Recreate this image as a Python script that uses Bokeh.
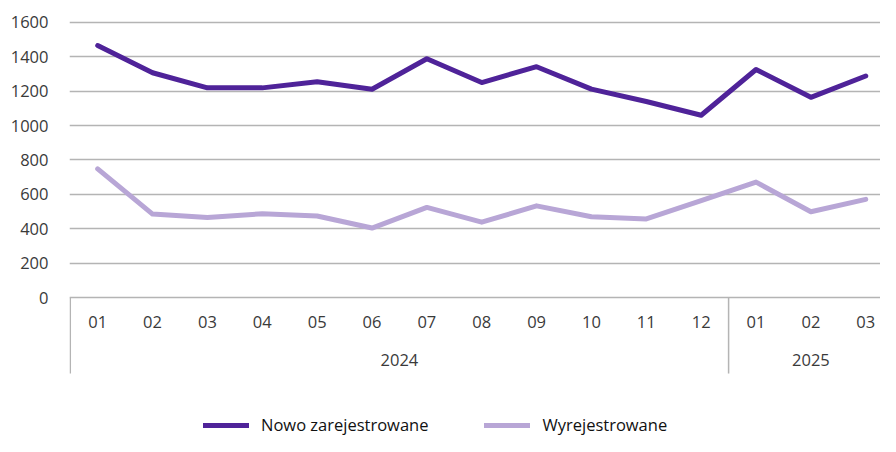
from bokeh.plotting import figure
from bokeh.models import Range1d, FixedTicker, Legend, LegendItem, ColumnDataSource
from bokeh.core.properties import value
from bokeh.embed import file_html
from bokeh.resources import INLINE

# ---- data ----
years = ["2024", "2025"]
months_2024 = ["01", "02", "03", "04", "05", "06", "07", "08", "09", "10", "11", "12"]
months_2025 = ["01", "02", "03"]
nowo_zarejestrowane = [1465, 1307, 1219, 1219, 1254, 1211, 1388, 1250, 1342, 1212,
                       1140, 1060, 1326, 1164, 1288]
wyrejestrowane = [748, 485, 466, 487, 474, 404, 524, 438, 533, 470,
                  457, 563, 671, 499, 571]
y_ticks = [0, 200, 400, 600, 800, 1000, 1200, 1400, 1600]

# ---- style ----
FONT = "Open Sans"
FS = "16.5px"
TXT = "#3a3a3a"
GRID = "#b4b4b4"
DARK = "#4f2399"
LIGHT = "#b8a6d6"

W, H = 880, 436
Y0, Y1 = -808, 1727
PX_PER_UNIT = H / (Y1 - Y0)

groups = [(years[0], months_2024), (years[1], months_2025)]
months = months_2024 + months_2025
x = list(range(len(months)))

p = figure(width=W, height=H, output_backend="svg", toolbar_location=None,
           x_range=Range1d(-0.514, 14.269), y_range=Range1d(Y0, Y1),
           min_border_left=69, min_border_right=0, min_border_top=0,
           min_border_bottom=0, outline_line_color=None)
p.background_fill_color = "white"
p.border_fill_color = "white"

p.xaxis.visible = False
p.xgrid.visible = False
p.yaxis.ticker = FixedTicker(ticks=y_ticks)
p.yaxis.axis_line_color = None
p.yaxis.major_tick_line_color = None
p.yaxis.minor_tick_line_color = None
p.yaxis.major_label_standoff = 15
p.yaxis.major_label_text_font = FONT
p.yaxis.major_label_text_font_size = FS
p.yaxis.major_label_text_color = TXT
p.ygrid.ticker = FixedTicker(ticks=y_ticks)
p.ygrid.grid_line_color = GRID
p.ygrid.grid_line_width = 1.5

# month labels
p.text(x=x, y=[0] * len(x), text=months, text_font=value(FONT), text_font_size=FS,
       text_color=TXT, text_align="center", text_baseline="middle", y_offset=24)

# year labels and separators
year_x, sep_x = [], []
start = 0
for yr, ms in groups:
    idx = list(range(start, start + len(ms)))
    year_x.append(sum(idx) / len(idx))
    sep_x.append(start - 0.5)
    start += len(ms)
p.text(x=year_x, y=[0] * len(year_x), text=years, text_font=value(FONT), text_font_size=FS,
       text_color=TXT, text_align="center", text_baseline="middle", y_offset=62)
sep_len = -76 / PX_PER_UNIT
p.segment(x0=sep_x, y0=[0] * len(sep_x), x1=sep_x, y1=[sep_len] * len(sep_x),
          line_color=GRID, line_width=1.5)

src = ColumnDataSource(dict(x=x, a=nowo_zarejestrowane, b=wyrejestrowane))
r1 = p.line("x", "a", source=src, line_color=DARK, line_width=5,
            line_join="round", line_cap="round")
r2 = p.line("x", "b", source=src, line_color=LIGHT, line_width=5,
            line_join="round", line_cap="round")

legend = Legend(items=[LegendItem(label="Nowo zarejestrowane", renderers=[r1]),
                       LegendItem(label="Wyrejestrowane", renderers=[r2])],
                orientation="horizontal", location=(134, 0),
                label_text_font=FONT, label_text_font_size=FS, label_text_color="#111111",
                glyph_width=46, glyph_height=20, label_standoff=12, spacing=56,
                padding=0, margin=0, border_line_color=None,
                background_fill_alpha=0)
p.add_layout(legend, "center")

open("out.html", "w").write(file_html(p, INLINE))
